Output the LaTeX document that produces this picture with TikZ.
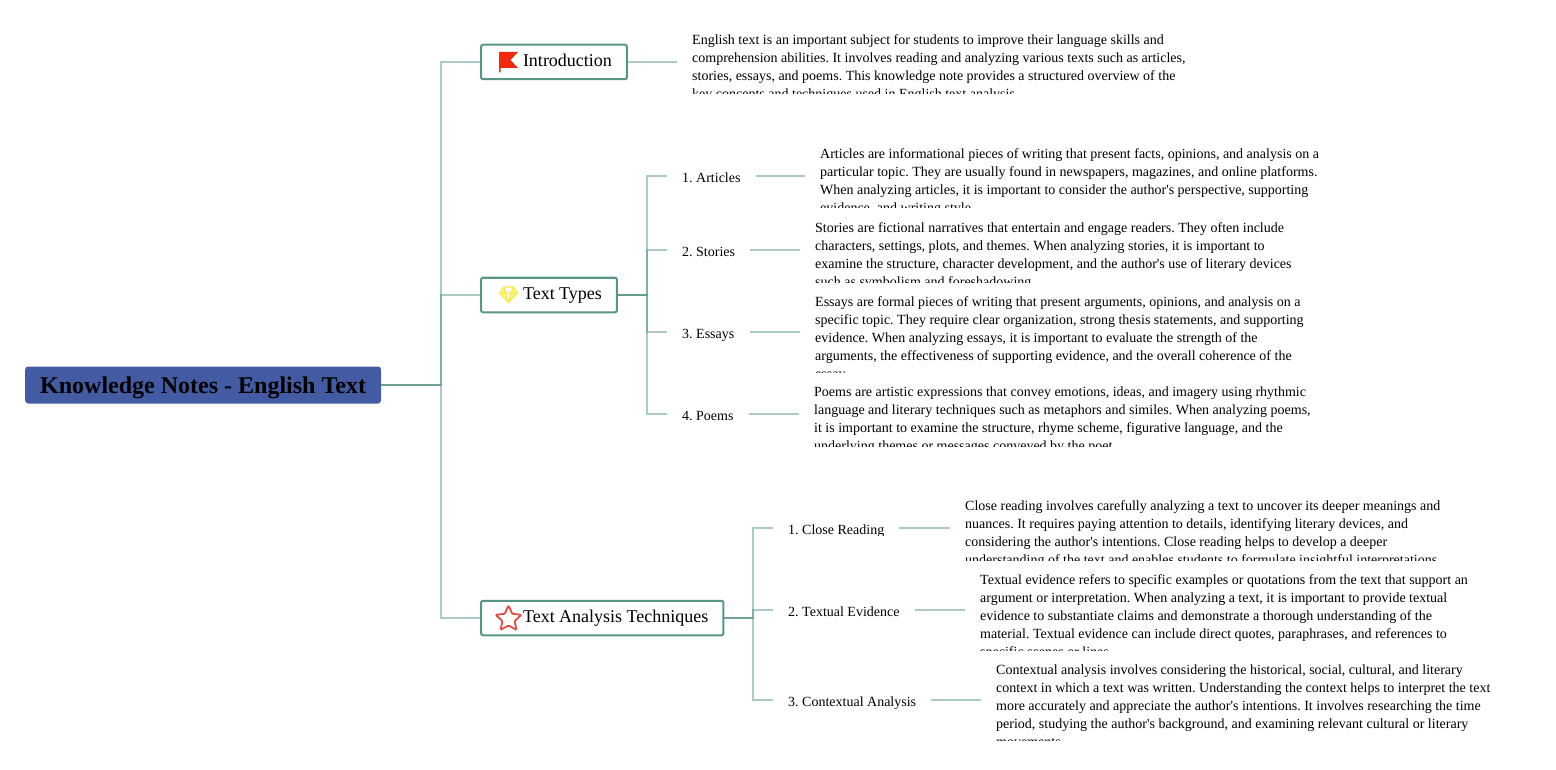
\documentclass[tikz,border=0pt]{standalone}
\usepackage{fontspec}
\setmainfont{Liberation Serif}
\newfontfamily\corps{Liberation Serif}
\frenchspacing
\definecolor{bleu}{RGB}{67,91,163}
\definecolor{vert}{RGB}{88,150,132}
\definecolor{rouge}{RGB}{245,40,15}
\definecolor{etoile}{RGB}{226,78,66}
\definecolor{jaune}{RGB}{248,236,70}
\usetikzlibrary{calc,shapes.geometric}
\tikzset{
	racine/.style={fill=bleu,rounded corners=3pt,minimum height=37pt,inner xsep=15pt,inner ysep=0pt,text height=18pt,text depth=2pt,font=\corps\fontsize{24}{28}\selectfont\bfseries},
	theme/.style={draw=vert,line width=2pt,fill=white,rounded corners=2pt,anchor=west,minimum height=34.5pt,inner xsep=15pt,inner ysep=0pt,text height=13.3pt,text depth=5pt,font=\corps\fontsize{18}{22}\selectfont},
	etiquette/.style={inner xsep=15pt,inner ysep=0pt,anchor=west,text height=14.5pt,text depth=2pt,font=\corps\fontsize{14}{18}\selectfont},
	note/.style={inner xsep=15pt,inner ysep=0pt,anchor=north west,align=left,font=\corps\fontsize{14}{18}\selectfont},
	branche/.style={vert,line width=2pt,opacity=0.5},
}
% note: name, corner x, first baseline y, bottom y of the visible part, lines
\newcommand{\notetexte}[5]{
	\begin{scope}
		\clip (#2,#3-13) rectangle (#2+560,#4);
		\node[note] (#1) at (#2,#3-13) {\rule{0pt}{13pt}#5};
	\end{scope}
}
\begin{document}
\begin{tikzpicture}[x=1pt,y=-1pt]
	\useasboundingbox (0,0) rectangle (1556,770);
	\node[racine,anchor=west] (root) at (25,385) {Knowledge Notes - English Text};
	\node[theme] (intro) at (480,62) {\hspace*{27pt}Introduction};
	\node[theme] (types) at (480,295) {\hspace*{27pt}Text Types};
	\node[theme] (analysis) at (480,618) {\hspace*{27pt}Text Analysis Techniques};
	% icons
	\fill[rouge] (499,52)--(518,52)--(510.5,60)--(518,68)--(500.5,68)--(500.5,72.5)--(499,72.5)--cycle;
	\draw[jaune,line width=1.3pt,fill=jaune!55,line join=round] (504,287)--(513,287)--(517.5,293)--(508.5,302.5)--(499.5,293)--cycle (499.5,293)--(517.5,293) (504,287)--(505.5,293)--(508.5,302.5)--(511.5,293)--(513,287);
	\node[star,star points=5,star point ratio=2.1,minimum size=27pt,inner sep=0pt,draw=etoile,line width=1.8pt,rounded corners=1pt] (staricon) at (508.5,619) {};
	% sub topics
	\node[etiquette] (articles) at (667,176) {1. Articles};
	\node[etiquette] (stories) at (667,250) {2. Stories};
	\node[etiquette] (essays) at (667,332) {3. Essays};
	\node[etiquette] (poems) at (667,414) {4. Poems};
	\begin{scope}
		\clip (773,515) rectangle (900,535.5);
		\node[etiquette] (close) at (773,528) {1. Close Reading};
	\end{scope}
	\node[etiquette] (evidence) at (773,610) {2. Textual Evidence};
	\node[etiquette] (context) at (773,700) {3. Contextual Analysis};
	% notes
	\notetexte{intronote}{677}{44}{94}{English text is an important subject for students to improve their language skills and\\comprehension abilities. It involves reading and analyzing various texts such as articles,\\stories, essays, and poems. This knowledge note provides a structured overview of the\\key concepts and techniques used in English text analysis.}
	\notetexte{articlesnote}{805}{158}{208}{Articles are informational pieces of writing that present facts, opinions, and analysis on a\\particular topic. They are usually found in newspapers, magazines, and online platforms.\\When analyzing articles, it is important to consider the author's perspective, supporting\\evidence, and writing style.}
	\notetexte{storiesnote}{800}{232}{282}{Stories are fictional narratives that entertain and engage readers. They often include\\characters, settings, plots, and themes. When analyzing stories, it is important to\\examine the structure, character development, and the author's use of literary devices\\such as symbolism and foreshadowing.}
	\notetexte{essaysnote}{800}{306}{372}{Essays are formal pieces of writing that present arguments, opinions, and analysis on a\\specific topic. They require clear organization, strong thesis statements, and supporting\\evidence. When analyzing essays, it is important to evaluate the strength of the\\arguments, the effectiveness of supporting evidence, and the overall coherence of the\\essay.}
	\notetexte{poemsnote}{799}{396}{446}{Poems are artistic expressions that convey emotions, ideas, and imagery using rhythmic\\language and literary techniques such as metaphors and similes. When analyzing poems,\\it is important to examine the structure, rhyme scheme, figurative language, and the\\underlying themes or messages conveyed by the poet.}
	\notetexte{closenote}{950}{510}{560}{Close reading involves carefully analyzing a text to uncover its deeper meanings and\\nuances. It requires paying attention to details, identifying literary devices, and\\considering the author's intentions. Close reading helps to develop a deeper\\understanding of the text and enables students to formulate insightful interpretations.}
	\notetexte{evidencenote}{965}{584}{650}{Textual evidence refers to specific examples or quotations from the text that support an\\argument or interpretation. When analyzing a text, it is important to provide textual\\evidence to substantiate claims and demonstrate a thorough understanding of the\\material. Textual evidence can include direct quotes, paraphrases, and references to\\specific scenes or lines.}
	\notetexte{contextnote}{981}{674}{740}{Contextual analysis involves considering the historical, social, cultural, and literary\\context in which a text was written. Understanding the context helps to interpret the text\\more accurately and appreciate the author's intentions. It involves researching the time\\period, studying the author's background, and examining relevant cultural or literary\\movements.}
	% branches
	\foreach \kid in {intro,types,analysis}
		\draw[branche] (root.east) -- ++(60,0) |- (\kid.west);
	\foreach \kid in {articles,stories,essays,poems}
		\draw[branche] (types.east) -- ++(29,0) |- (\kid.west);
	\foreach \kid in {close,evidence,context}
		\draw[branche] (analysis.east) -- ++(29,0) |- (\kid.west);
	\draw[branche] (intro.east) -- (intro.east -| intronote.west);
	\foreach \kid in {articles,stories,essays,poems,close,evidence,context}
		\draw[branche] (\kid.east) -- (\kid.east -| \kid note.west);
\end{tikzpicture}
\end{document}
